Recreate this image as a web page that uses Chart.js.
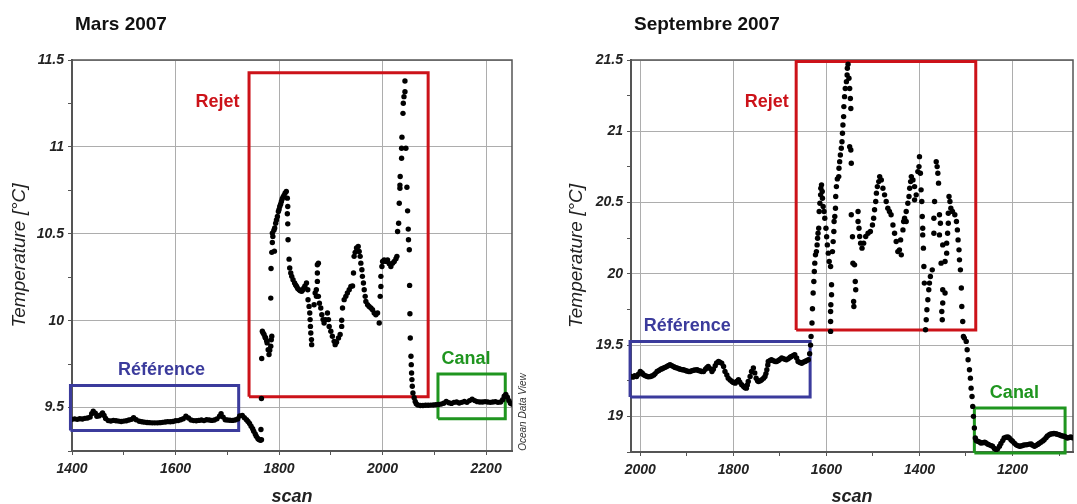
<!DOCTYPE html>
<html><head><meta charset="utf-8">
<script src="https://cdn.jsdelivr.net/npm/chart.js@4.4.0/dist/chart.umd.min.js"></script>
<style>
html,body{margin:0;padding:0;background:#fff;overflow:hidden;width:1077px;height:504px;}
.panel{position:absolute;top:0;}
</style></head><body>
<div class="panel" style="left:0"><canvas id="c1" width="540" height="504"></canvas></div>
<div class="panel" style="left:540px"><canvas id="c2" width="537" height="504"></canvas></div>
<script>
// ---------- Mars 2007 : [scan, temperature °C] ----------
const marsReference = [[1400,9.432],[1405,9.435],[1410,9.432],[1415,9.436],[1420,9.434],[1425,9.438],[1430,9.44],[1435,9.445],[1438,9.465],[1441,9.479],[1445,9.468],[1448,9.45],[1452,9.452],[1455,9.458],[1459,9.469],[1462,9.455],[1465,9.437],[1470,9.425],[1475,9.423],[1480,9.426],[1485,9.424],[1490,9.422],[1495,9.42],[1500,9.422],[1505,9.424],[1510,9.428],[1515,9.432],[1519,9.442],[1524,9.43],[1530,9.421],[1535,9.418],[1540,9.416],[1545,9.414],[1550,9.413],[1555,9.412],[1560,9.412],[1565,9.412],[1570,9.413],[1575,9.415],[1580,9.417],[1585,9.419],[1590,9.418],[1595,9.42],[1600,9.424],[1605,9.425],[1610,9.43],[1615,9.436],[1620,9.45],[1625,9.44],[1630,9.428],[1635,9.425],[1640,9.424],[1645,9.426],[1650,9.428],[1655,9.425],[1660,9.43],[1665,9.428],[1670,9.426],[1675,9.428],[1680,9.435],[1685,9.45],[1688,9.465],[1692,9.445],[1696,9.43],[1700,9.428],[1705,9.427],[1710,9.426],[1715,9.428],[1720,9.434],[1724,9.452],[1729,9.455],[1733,9.442],[1737,9.43],[1740,9.42],[1743,9.408],[1746,9.393],[1749,9.378],[1751,9.364],[1754,9.348],[1756,9.335],[1759,9.322],[1761,9.316],[1764,9.312],[1766,9.315]];
const marsRejet = [[1765,9.374],[1766,9.552],[1766.5,9.782],[1767.7,9.939],[1769,9.93],[1771,9.92],[1773,9.905],[1774,9.9],[1776,9.885],[1777,9.872],[1779,9.833],[1780.6,9.805],[1782,9.83],[1784,9.853],[1785,9.89],[1786,9.91],[1784,10.13],[1784.5,10.3],[1786,10.393],[1787,10.45],[1788,10.485],[1787,10.504],[1791,10.4],[1790,10.52],[1791.6,10.533],[1793.5,10.561],[1795,10.58],[1796.8,10.6],[1798.7,10.628],[1800,10.64],[1801.3,10.657],[1803,10.67],[1804.5,10.686],[1806,10.7],[1807.7,10.711],[1809.5,10.72],[1811.6,10.734],[1814,10.743],[1816,10.705],[1816.8,10.657],[1816,10.615],[1816.8,10.557],[1817.4,10.466],[1819.4,10.354],[1820.6,10.303],[1822.6,10.274],[1824.5,10.255],[1827,10.236],[1830,10.217],[1832,10.205],[1834,10.197],[1836,10.185],[1838.7,10.178],[1841,10.172],[1843.9,10.169],[1846,10.178],[1848,10.188],[1850,10.2],[1853,10.217],[1855.5,10.178],[1856,10.12],[1858,10.082],[1859.3,10.044],[1860,10.006],[1860.6,9.967],[1861.3,9.929],[1862.6,9.891],[1863,9.862],[1867.7,10.092],[1869.7,10.159],[1872,10.178],[1874,10.226],[1874,10.274],[1874,10.322],[1876,10.331],[1872.2,10.14],[1876,10.14],[1878,10.1],[1880.6,10.073],[1882.6,10.034],[1885,10.006],[1887,9.987],[1890,10.006],[1893.5,10.044],[1895.5,10.006],[1896.8,9.967],[1900,9.939],[1903,9.91],[1906.4,9.881],[1908.4,9.862],[1911,9.876],[1914.8,9.9],[1918,9.92],[1921,9.967],[1921,10.002],[1922.6,10.073],[1925.8,10.121],[1929,10.14],[1932,10.159],[1935.5,10.178],[1938.7,10.197],[1942,10.2],[1943.8,10.274],[1945,10.37],[1947,10.393],[1949.6,10.418],[1952.9,10.427],[1954.8,10.398],[1956.7,10.37],[1958,10.331],[1960,10.293],[1961,10.255],[1963,10.217],[1964.5,10.178],[1966.4,10.14],[1967.7,10.111],[1971,10.092],[1974,10.082],[1977.4,10.073],[1980.6,10.063],[1983.8,10.044],[1987,10.034],[1990.3,10.044],[1993.5,9.987],[1995.4,10.14],[1996.7,10.197],[1996.7,10.255],[1998.7,10.312],[2000,10.341],[2003,10.35],[2006.4,10.341],[2009.6,10.35],[2012.9,10.328],[2016,10.312],[2019.3,10.331],[2022.5,10.341],[2025.8,10.356],[2027.7,10.37],[2029,10.513],[2031,10.561],[2032.2,10.676],[2033.5,10.762],[2033.5,10.78],[2034,10.83],[2036.7,10.935],[2036.7,10.992],[2037.4,11.056],[2039.4,11.193],[2040,11.251],[2041.3,11.289],[2043.2,11.318],[2043.2,11.379],[2045,10.992],[2047,10.768],[2048.3,10.632],[2049.6,10.527],[2050,10.466],[2051.6,10.408],[2052.2,10.203],[2052.8,10.04],[2053.5,9.9],[2054.8,9.795],[2055.4,9.747],[2056,9.699],[2056.7,9.661],[2057.4,9.623],[2058.6,9.584],[2061,9.556],[2063,9.535]];
const marsCanal = [[2065,9.522],[2068,9.515],[2073,9.512],[2078,9.512],[2083,9.513],[2088,9.513],[2093,9.514],[2098,9.515],[2103,9.516],[2108,9.518],[2113,9.52],[2118,9.525],[2123,9.535],[2128,9.528],[2133,9.524],[2138,9.53],[2143,9.532],[2148,9.526],[2153,9.53],[2158,9.535],[2163,9.53],[2168,9.54],[2173,9.548],[2178,9.54],[2183,9.534],[2188,9.532],[2193,9.532],[2198,9.534],[2203,9.532],[2208,9.53],[2213,9.532],[2218,9.534],[2223,9.53],[2228,9.532],[2232,9.545],[2235,9.565],[2238,9.575],[2241,9.56],[2244,9.54],[2247,9.525],[2250,9.52]];

// ---------- Septembre 2007 : [scan, temperature °C] ----------
const septReference = [[2020,19.28],[2016,19.275],[2012,19.285],[2008,19.28],[2004,19.295],[2000,19.315],[1996,19.305],[1993,19.292],[1989,19.285],[1985,19.28],[1982,19.278],[1978,19.28],[1975,19.284],[1971,19.29],[1968,19.3],[1964,19.315],[1960,19.322],[1956,19.33],[1953,19.334],[1950,19.339],[1946,19.345],[1942,19.352],[1939,19.358],[1936,19.362],[1932,19.355],[1928,19.348],[1925,19.343],[1921,19.339],[1917,19.334],[1914,19.33],[1910,19.327],[1907,19.327],[1903,19.322],[1900,19.318],[1896,19.315],[1893,19.315],[1889,19.32],[1885,19.324],[1882,19.326],[1878,19.327],[1875,19.322],[1871,19.318],[1868,19.315],[1864,19.315],[1860,19.33],[1857,19.342],[1854,19.35],[1850,19.335],[1846,19.315],[1843,19.33],[1839,19.355],[1836,19.375],[1832,19.385],[1829,19.38],[1825,19.373],[1821,19.35],[1818,19.315],[1814,19.29],[1811,19.268],[1807,19.255],[1803,19.245],[1800,19.238],[1796,19.233],[1793,19.245],[1789,19.257],[1786,19.24],[1782,19.222],[1778,19.21],[1775,19.2],[1772,19.198],[1770,19.22],[1768,19.245],[1764,19.28],[1761,19.315],[1757,19.339],[1754,19.305],[1751,19.268],[1748,19.25],[1746,19.245],[1742,19.25],[1739,19.257],[1735,19.268],[1732,19.28],[1730,19.3],[1728,19.327],[1726,19.36],[1725,19.385],[1721,19.392],[1718,19.397],[1714,19.39],[1710,19.385],[1707,19.385],[1703,19.392],[1700,19.4],[1696,19.409],[1692,19.405],[1689,19.4],[1686,19.397],[1682,19.405],[1678,19.415],[1675,19.42],[1671,19.428],[1668,19.432],[1664,19.41],[1661,19.385],[1657,19.378],[1653,19.373],[1650,19.38],[1646,19.385],[1643,19.39],[1639,19.397],[1636,19.44],[1634,19.5]];
const septRejet = [[1633,19.56],[1631,19.655],[1630,19.755],[1628.5,19.865],[1627,19.946],[1626,20.016],[1625,20.075],[1623.5,20.133],[1621.5,20.156],[1620,20.203],[1619,20.25],[1618,20.285],[1616.5,20.32],[1615.5,20.437],[1614,20.495],[1612.5,20.554],[1612,20.6],[1610.5,20.624],[1609,20.577],[1608.5,20.53],[1607,20.472],[1605,20.437],[1603.5,20.39],[1601,20.32],[1599.5,20.26],[1598,20.203],[1596,20.145],[1594,20.086],[1591,20.051],[1589,19.923],[1589,19.853],[1590.5,19.783],[1591,19.736],[1591,19.666],[1591,19.596],[1587,20.156],[1585.5,20.226],[1584,20.297],[1583.5,20.367],[1582,20.402],[1580.5,20.46],[1580,20.542],[1578.5,20.612],[1576.5,20.666],[1573.5,20.682],[1573,20.741],[1571.5,20.787],[1570,20.834],[1568,20.881],[1566.5,20.927],[1565.5,20.986],[1564.5,21.044],[1563,21.103],[1562.5,21.173],[1561,21.243],[1559.5,21.3],[1557,21.348],[1555.5,21.395],[1555,21.442],[1553.5,21.47],[1551.5,21.372],[1550,21.3],[1548.5,21.23],[1547.5,21.16],[1550,20.892],[1547.5,20.869],[1546.5,20.776],[1546.5,20.414],[1544,20.26],[1543,20.075],[1539.5,20.063],[1538,19.946],[1537,19.888],[1541.5,19.806],[1541,19.771],[1532,20.437],[1532,20.367],[1530,20.32],[1528.5,20.262],[1526.5,20.215],[1523.5,20.18],[1520,20.215],[1515.5,20.262],[1510.5,20.285],[1505.5,20.297],[1501,20.343],[1498.5,20.39],[1496.5,20.449],[1494,20.507],[1492.5,20.566],[1490.5,20.612],[1487.5,20.647],[1485.5,20.682],[1482,20.659],[1478.5,20.6],[1475,20.554],[1471.5,20.507],[1468,20.46],[1464.5,20.437],[1461,20.414],[1457,20.343],[1453.5,20.285],[1450,20.227],[1446.5,20.156],[1443,20.168],[1439,20.133],[1440.5,20.238],[1435.5,20.308],[1434,20.367],[1432,20.39],[1428.5,20.367],[1428.5,20.437],[1425,20.495],[1422.5,20.542],[1421,20.6],[1419,20.647],[1417.5,20.682],[1414,20.659],[1410.5,20.612],[1410.5,20.519],[1407,20.554],[1403.5,20.717],[1401,20.752],[1400,20.822],[1398,20.706],[1396.5,20.589],[1395,20.507],[1394,20.402],[1393,20.32],[1393,20.273],[1391.5,20.18],[1390.5,20.051],[1389.5,19.935],[1387,19.608],[1385.5,19.678],[1384,19.748],[1382,19.818],[1380,19.888],[1378.5,19.935],[1376.5,19.981],[1372.5,20.028],[1364,20.787],[1362,20.752],[1360.5,20.706],[1359,20.636],[1367.5,20.507],[1369,20.39],[1369,20.285],[1357,20.414],[1355,20.355],[1357,20.273],[1353.5,20.075],[1350,20.203],[1350,19.888],[1350,19.795],[1352,19.736],[1351,19.678],[1345,19.865],[1345,20.086],[1341.5,20.145],[1341.5,20.215],[1339.5,20.285],[1338,20.355],[1338,20.425],[1336.5,20.542],[1334.5,20.507],[1332.5,20.46],[1329,20.437],[1324,20.414],[1320.5,20.367],[1318.5,20.308],[1317,20.238],[1315,20.168],[1314,20.098],[1312,20.028],[1310,19.9],[1309,19.771],[1307,19.666],[1305.5,19.561],[1303.5,19.549],[1299.5,19.526],[1297.5,19.467],[1295.5,19.397],[1292.5,19.327],[1290.5,19.268],[1289,19.198],[1287,19.139],[1285.5,19.07],[1284,19.0],[1282,18.918],[1280,18.848]];
const septCanal = [[1278,18.83],[1275,18.825],[1271,18.82],[1268,18.813],[1264,18.815],[1260,18.818],[1257,18.813],[1253,18.805],[1250,18.8],[1246,18.795],[1243,18.79],[1239,18.775],[1235,18.767],[1232,18.772],[1228,18.79],[1225,18.81],[1221,18.83],[1218,18.848],[1214,18.853],[1210,18.855],[1207,18.848],[1203,18.835],[1200,18.825],[1196,18.812],[1192,18.8],[1189,18.795],[1185,18.79],[1182,18.792],[1178,18.796],[1175,18.8],[1171,18.8],[1168,18.802],[1164,18.805],[1160,18.806],[1157,18.798],[1153,18.79],[1150,18.795],[1146,18.803],[1143,18.81],[1139,18.818],[1135,18.828],[1132,18.836],[1128,18.85],[1125,18.862],[1121,18.871],[1118,18.876],[1114,18.878],[1111,18.88],[1107,18.878],[1104,18.874],[1100,18.871],[1096,18.866],[1093,18.862],[1089,18.86],[1086,18.855],[1082,18.848],[1078,18.852],[1075,18.855],[1071,18.85]];

// ---------- axes ----------
const marsXTicks = [1400,1500,1600,1700,1800,1900,2000,2100,2200];
const marsXLabels = [1400,1600,1800,2000,2200];
const marsYTicks = [9.25,9.5,9.75,10,10.25,10.5,10.75,11,11.25,11.5];
const marsYLabels = [9.5,10,10.5,11,11.5];
const septXTicks = [1100,1200,1300,1400,1500,1600,1700,1800,1900,2000];
const septXLabels = [1200,1400,1600,1800,2000];
const septYTicks = [18.75,19,19.25,19.5,19.75,20,20.25,20.5,20.75,21,21.25,21.5];
const septYLabels = [19,19.5,20,20.5,21,21.5];

// ---------- zones (scan range, temperature range) ----------
const marsZones = [
  {name:'Référence', color:'#3b3b9c', x0:1397, x1:1722, y0:9.368, y1:9.627, lx:1573, ly:9.718},
  {name:'Rejet', color:'#cc1219', x0:1742, x1:2088, y0:9.562, y1:11.426, lx:1681, ly:11.259},
  {name:'Canal', color:'#1f951f', x0:2107, x1:2237, y0:9.435, y1:9.693, lx:2161, ly:9.782}
];
const septZones = [
  {name:'Référence', color:'#3b3b9c', x0:2022, x1:1635, y0:19.135, y1:19.526, lx:1899, ly:19.636},
  {name:'Rejet', color:'#cc1219', x0:1665, x1:1279, y0:19.605, y1:21.49, lx:1728, ly:21.206},
  {name:'Canal', color:'#1f951f', x0:1282, x1:1087, y0:18.743, y1:19.058, lx:1196, ly:19.166}
];

const FONT = 'Liberation Sans, Arial, Helvetica, sans-serif';

const decor = {
  id: 'decor',
  beforeDatasetsDraw(chart, args, o) {
    const {ctx, chartArea: a} = chart;
    ctx.save();
    ctx.strokeStyle = '#555';
    ctx.lineWidth = 1.5;
    ctx.strokeRect(a.left, a.top, a.right - a.left, a.bottom - a.top);
    ctx.restore();
  },
  afterDraw(chart, args, o) {
    const {ctx, scales} = chart;
    ctx.save();
    ctx.font = 'bold 18px ' + FONT;
    ctx.textAlign = 'center';
    ctx.textBaseline = 'middle';
    o.zones.forEach(z => {
      ctx.fillStyle = z.color;
      ctx.fillText(z.name, scales.x.getPixelForValue(z.lx), scales.y.getPixelForValue(z.ly));
    });
    ctx.fillStyle = '#111';
    ctx.font = 'bold 19px ' + FONT;
    ctx.textAlign = 'left';
    ctx.fillText(o.title, o.titleX, 25);
    if (o.note) {
      ctx.translate(o.note.x, o.note.y);
      ctx.rotate(-Math.PI / 2);
      ctx.font = 'italic 10px ' + FONT;
      ctx.fillStyle = '#333';
      ctx.textAlign = 'center';
      ctx.fillText(o.note.text, 0, 0);
    }
    ctx.restore();
  }
};

function boxData(z) {
  return [{x:z.x0,y:z.y0},{x:z.x1,y:z.y0},{x:z.x1,y:z.y1},{x:z.x0,y:z.y1},{x:z.x0,y:z.y0}];
}

function build(id, cfg) {
  const pts = [].concat(cfg.ref, cfg.rej, cfg.can).map(p => ({x:p[0], y:p[1]}));
  const datasets = [{
    data: pts, pointRadius: 2.7, pointBackgroundColor: '#000', pointBorderWidth: 0, showLine: false
  }].concat(cfg.zones.map(z => ({
    data: boxData(z), showLine: true, borderColor: z.color, borderWidth: 3,
    pointRadius: 0, fill: false, tension: 0, clip: false
  })));
  const tickFont = {family: FONT, size: 14, style: 'italic', weight: 'bold'};
  return new Chart(document.getElementById(id), {
    type: 'scatter',
    data: {datasets},
    plugins: [decor],
    options: {
      responsive: false, animation: false, devicePixelRatio: 1,
      layout: {padding: {left: 0, top: 60, right: cfg.padRight, bottom: 0}},
      plugins: {
        legend: {display: false}, tooltip: {enabled: false},
        decor: {zones: cfg.zones, title: cfg.title, titleX: cfg.titleX, note: cfg.note}
      },
      scales: {
        x: {
          type: 'linear', min: cfg.xMin, max: cfg.xMax, reverse: cfg.reverse,
          afterBuildTicks: s => { s.ticks = cfg.xTicks.map(v => ({value: v})); },
          afterFit: s => { s.height = cfg.xAxisHeight; },
          ticks: {autoSkip: false, maxRotation: 0, padding: 6, color: '#222', font: tickFont,
                  callback: v => cfg.xLabels.includes(v) ? String(v) : ''},
          grid: {color: c => (c.tick && cfg.xLabels.includes(c.tick.value)) ? '#adadad' : 'rgba(0,0,0,0)',
                 tickColor: '#555', tickLength: 4, lineWidth: 1},
          border: {color: '#555', width: 2},
          title: {display: true, text: 'scan', color: '#222', padding: {top: 0, bottom: 0},
                  font: {family: FONT, size: 18, style: 'italic', weight: 'bold', lineHeight: 0.8}}
        },
        y: {
          type: 'linear', min: cfg.yMin, max: cfg.yMax,
          afterBuildTicks: s => { s.ticks = cfg.yTicks.map(v => ({value: v})); },
          afterFit: s => { s.width = cfg.yAxisWidth; },
          ticks: {autoSkip: false, padding: 4, color: '#222', font: tickFont,
                  callback: v => cfg.yLabels.includes(v) ? String(v) : ''},
          grid: {color: c => (c.tick && cfg.yLabels.includes(c.tick.value)) ? '#adadad' : 'rgba(0,0,0,0)',
                 tickColor: '#555', tickLength: 4, lineWidth: 1},
          border: {color: '#555', width: 2},
          title: {display: true, text: 'Temperature [°C]', color: '#222', padding: {top: cfg.yTitlePad, bottom: 0},
                  font: {family: FONT, size: 19, style: 'italic', weight: 'normal', lineHeight: 1.2}}
        }
      }
    }
  });
}

build('c1', {
  ref: marsReference, rej: marsRejet, can: marsCanal, zones: marsZones,
  xMin: 1400, xMax: 2250, reverse: false, yMin: 9.25, yMax: 11.5,
  xTicks: marsXTicks, xLabels: marsXLabels, yTicks: marsYTicks, yLabels: marsYLabels,
  padRight: 28, xAxisHeight: 53, yAxisWidth: 72, yTitlePad: 8.6,
  title: 'Mars 2007', titleX: 75, note: {text: 'Ocean Data View', x: 523, y: 412}
});
build('c2', {
  ref: septReference, rej: septRejet, can: septCanal, zones: septZones,
  xMin: 1070, xMax: 2020, reverse: true, yMin: 18.75, yMax: 21.5,
  xTicks: septXTicks, xLabels: septXLabels, yTicks: septYTicks, yLabels: septYLabels,
  padRight: 3, xAxisHeight: 52, yAxisWidth: 91, yTitlePad: 25.6,
  title: 'Septembre 2007', titleX: 94, note: null
});
</script>
</body></html>
